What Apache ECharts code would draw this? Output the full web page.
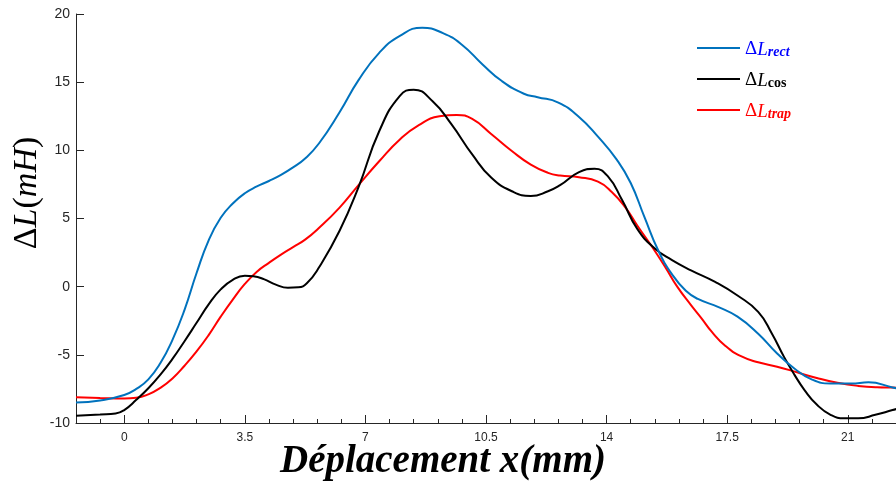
<!DOCTYPE html>
<html>
<head>
<meta charset="utf-8">
<script src="https://cdn.jsdelivr.net/npm/echarts@6/dist/echarts.min.js"></script>
<style>
  html, body { margin: 0; padding: 0; background: #ffffff; }
  #chart { width: 896px; height: 488px; }
</style>
</head>
<body>
<div id="chart"></div>
<script>
// Inductance variation versus displacement for three coil shapes
const xRect = [-1.4, -0.7, 0, 0.35, 0.7, 1.05, 1.4, 1.75, 2.1, 2.45, 2.8, 3.15, 3.5, 3.85, 4.2, 4.55, 4.9, 5.25, 5.65, 6.25, 6.8, 7.4, 8.0, 8.65, 9.25, 9.8, 10.4, 10.95, 11.6, 12.0, 12.6, 13.2, 13.75, 14.3, 14.7, 15.1, 15.5, 15.9, 16.3, 16.65, 17.25, 17.8, 18.4, 18.95, 19.45, 19.95, 20.5, 21.1, 21.6, 22.3, 22.6];
const yRect = [-8.5, -8.35, -7.95, -7.5, -6.8, -5.6, -3.9, -1.7, 1.0, 3.4, 5.05, 6.1, 6.85, 7.35, 7.75, 8.2, 8.75, 9.4, 10.5, 12.8, 15.15, 17.15, 18.4, 19.0, 18.6, 17.75, 16.3, 15.1, 14.15, 13.9, 13.5, 12.45, 11.0, 9.3, 7.6, 5.1, 2.65, 0.9, -0.3, -0.9, -1.5, -2.2, -3.45, -4.9, -6.0, -6.8, -7.1, -7.1, -7.02, -7.39, -7.55];

const xCos = [-1.4, -0.7, -0.25, 0, 0.35, 0.7, 1.05, 1.4, 1.75, 2.1, 2.45, 2.8, 3.15, 3.5, 3.75, 4.05, 4.4, 4.75, 5.05, 5.3, 5.65, 6.25, 6.8, 7.4, 8.0, 8.4, 8.95, 9.5, 10.1, 10.65, 11.25, 11.8, 12.3, 12.65, 13.2, 13.65, 14.05, 14.45, 14.9, 15.4, 15.9, 16.45, 17.15, 17.8, 18.4, 18.8, 19.15, 19.45, 19.75, 20.1, 20.5, 20.9, 21.3, 21.8, 22.3, 22.6];
const yCos = [-9.46, -9.37, -9.3, -9.05, -8.3, -7.45, -6.45, -5.3, -4.0, -2.65, -1.3, -0.2, 0.5, 0.8, 0.76, 0.55, 0.15, -0.08, -0.05, 0.25, 1.4, 4.1, 7.3, 11.4, 14.0, 14.45, 13.6, 11.9, 9.7, 8.0, 7.0, 6.65, 7.0, 7.45, 8.4, 8.65, 8.05, 6.35, 4.2, 2.8, 1.95, 1.2, 0.35, -0.65, -1.85, -3.45, -5.15, -6.45, -7.6, -8.65, -9.4, -9.66, -9.66, -9.4, -9.05, -8.85];

const xTrap = [-1.4, -0.7, 0, 0.35, 0.7, 1.05, 1.4, 1.75, 2.1, 2.45, 2.8, 3.15, 3.5, 3.85, 4.2, 4.55, 4.9, 5.25, 5.65, 6.25, 6.8, 7.4, 8.0, 8.55, 9.15, 9.65, 10.1, 10.65, 11.25, 11.8, 12.3, 12.65, 13.2, 13.75, 14.15, 14.55, 14.9, 15.3, 15.7, 16.05, 16.45, 16.75, 17.05, 17.45, 17.9, 18.4, 18.95, 19.55, 20.1, 20.7, 21.3, 21.85, 22.3, 22.6];
const yTrap = [-8.12, -8.17, -8.2, -8.15, -7.9, -7.42, -6.73, -5.8, -4.75, -3.55, -2.2, -0.95, 0.2, 1.1, 1.75, 2.35, 2.9, 3.45, 4.3, 5.8, 7.45, 9.2, 10.8, 11.85, 12.5, 12.6, 12.3, 11.2, 9.95, 8.95, 8.35, 8.15, 8.03, 7.7, 6.95, 5.8, 4.45, 3.0, 1.45, 0.0, -1.35, -2.3, -3.3, -4.35, -5.1, -5.55, -5.87, -6.3, -6.7, -7.05, -7.28, -7.38, -7.4, -7.42];

const xTickLabels = [0, 3.5, 7, 10.5, 14, 17.5, 21];
const seriesNames = ['rect', 'cos', 'trap'];
const seriesColors = ['#0072BD', '#000000', '#FF0000'];
const legendTextColors = ['#0000FF', '#000000', '#FF0000'];

const zip = (xs, ys) => xs.map((x, i) => [x, ys[i]]);
const seriesData = [zip(xRect, yRect), zip(xCos, yCos), zip(xTrap, yTrap)];

const axisColor = '#262626';
const serif = '"Liberation Serif", "DejaVu Serif", serif';

const legendRich = {};
seriesNames.forEach((n, i) => {
  const c = legendTextColors[i];
  legendRich['d' + i] = { fontFamily: serif, fontSize: 19, color: c, verticalAlign: 'bottom', lineHeight: 22 };
  legendRich['l' + i] = { fontFamily: serif, fontSize: 19, fontStyle: 'italic', color: c, verticalAlign: 'bottom', lineHeight: 22 };
  legendRich['s' + i] = {
    fontFamily: serif, fontSize: 14, fontWeight: 'bold',
    fontStyle: n === 'cos' ? 'normal' : 'italic',
    color: c, verticalAlign: 'bottom', lineHeight: 14,
    padding: [7, 0, 0, 0]
  };
});

const chart = echarts.init(document.getElementById('chart'), null, { renderer: 'canvas' });

chart.setOption({
  animation: false,
  backgroundColor: '#ffffff',
  grid: { left: 76, top: 14, right: -3, bottom: 65, containLabel: false },
  legend: {
    orient: 'vertical',
    left: 692,
    top: 33,
    itemWidth: 43,
    itemHeight: 10,
    itemGap: 10,
    icon: 'path://M0,4 L43,4 L43,6 L0,6 Z',
    data: seriesNames,
    formatter: name => {
      const i = seriesNames.indexOf(name);
      return '{d' + i + '|Δ}{l' + i + '|L}{s' + i + '|' + name + '}';
    },
    textStyle: { rich: legendRich }
  },
  xAxis: [
    {
      type: 'value', min: -1.4, max: 22.4, interval: 0.7,
      axisLine: { show: true, onZero: false, lineStyle: { color: axisColor, width: 1 } },
      axisTick: { show: true, inside: true, length: 4, lineStyle: { color: axisColor } },
      axisLabel: {
        customValues: xTickLabels,
        formatter: v => String(v),
        color: axisColor, fontFamily: 'Liberation Sans, Arial, sans-serif', fontSize: 12, margin: 9
      },
      splitLine: { show: false }
    },
    {
      type: 'value', min: -1.4, max: 22.4, position: 'bottom',
      axisLine: { show: false, onZero: false },
      axisTick: { show: true, inside: true, length: 8, customValues: xTickLabels, lineStyle: { color: axisColor } },
      axisLabel: { show: false },
      splitLine: { show: false }
    }
  ],
  yAxis: {
    type: 'value', min: -10, max: 20, interval: 5,
    axisLine: { show: true, onZero: false, lineStyle: { color: axisColor, width: 1 } },
    axisTick: { show: true, inside: true, length: 8, lineStyle: { color: axisColor } },
    axisLabel: { color: axisColor, fontFamily: 'Liberation Sans, Arial, sans-serif', fontSize: 14, margin: 6 },
    splitLine: { show: false }
  },
  graphic: [
    {
      type: 'text',
      left: 280, top: 442,
      style: {
        text: 'Déplacement x(mm)',
        font: 'italic bold 39px ' + serif,
        fill: '#000000'
      }
    },
    {
      type: 'text',
      x: 27, y: 193,
      rotation: Math.PI / 2,
      style: {
        text: '{n|Δ}{i|L}{n|(}{i|mH}{n|)}',
        align: 'center',
        verticalAlign: 'middle',
        rich: {
          n: { fontFamily: serif, fontSize: 34, fill: '#000' },
          i: { fontFamily: serif, fontSize: 34, fontStyle: 'italic', fill: '#000' }
        }
      }
    }
  ],
  series: seriesNames.map((n, i) => ({
    name: n,
    type: 'line',
    xAxisIndex: 0,
    data: seriesData[i],
    smooth: 0.5,
    showSymbol: false,
    symbol: 'none',
    lineStyle: { color: seriesColors[i], width: 2 },
    itemStyle: { color: seriesColors[i] },
    z: 3 - i
  }))
});
</script>
</body>
</html>
